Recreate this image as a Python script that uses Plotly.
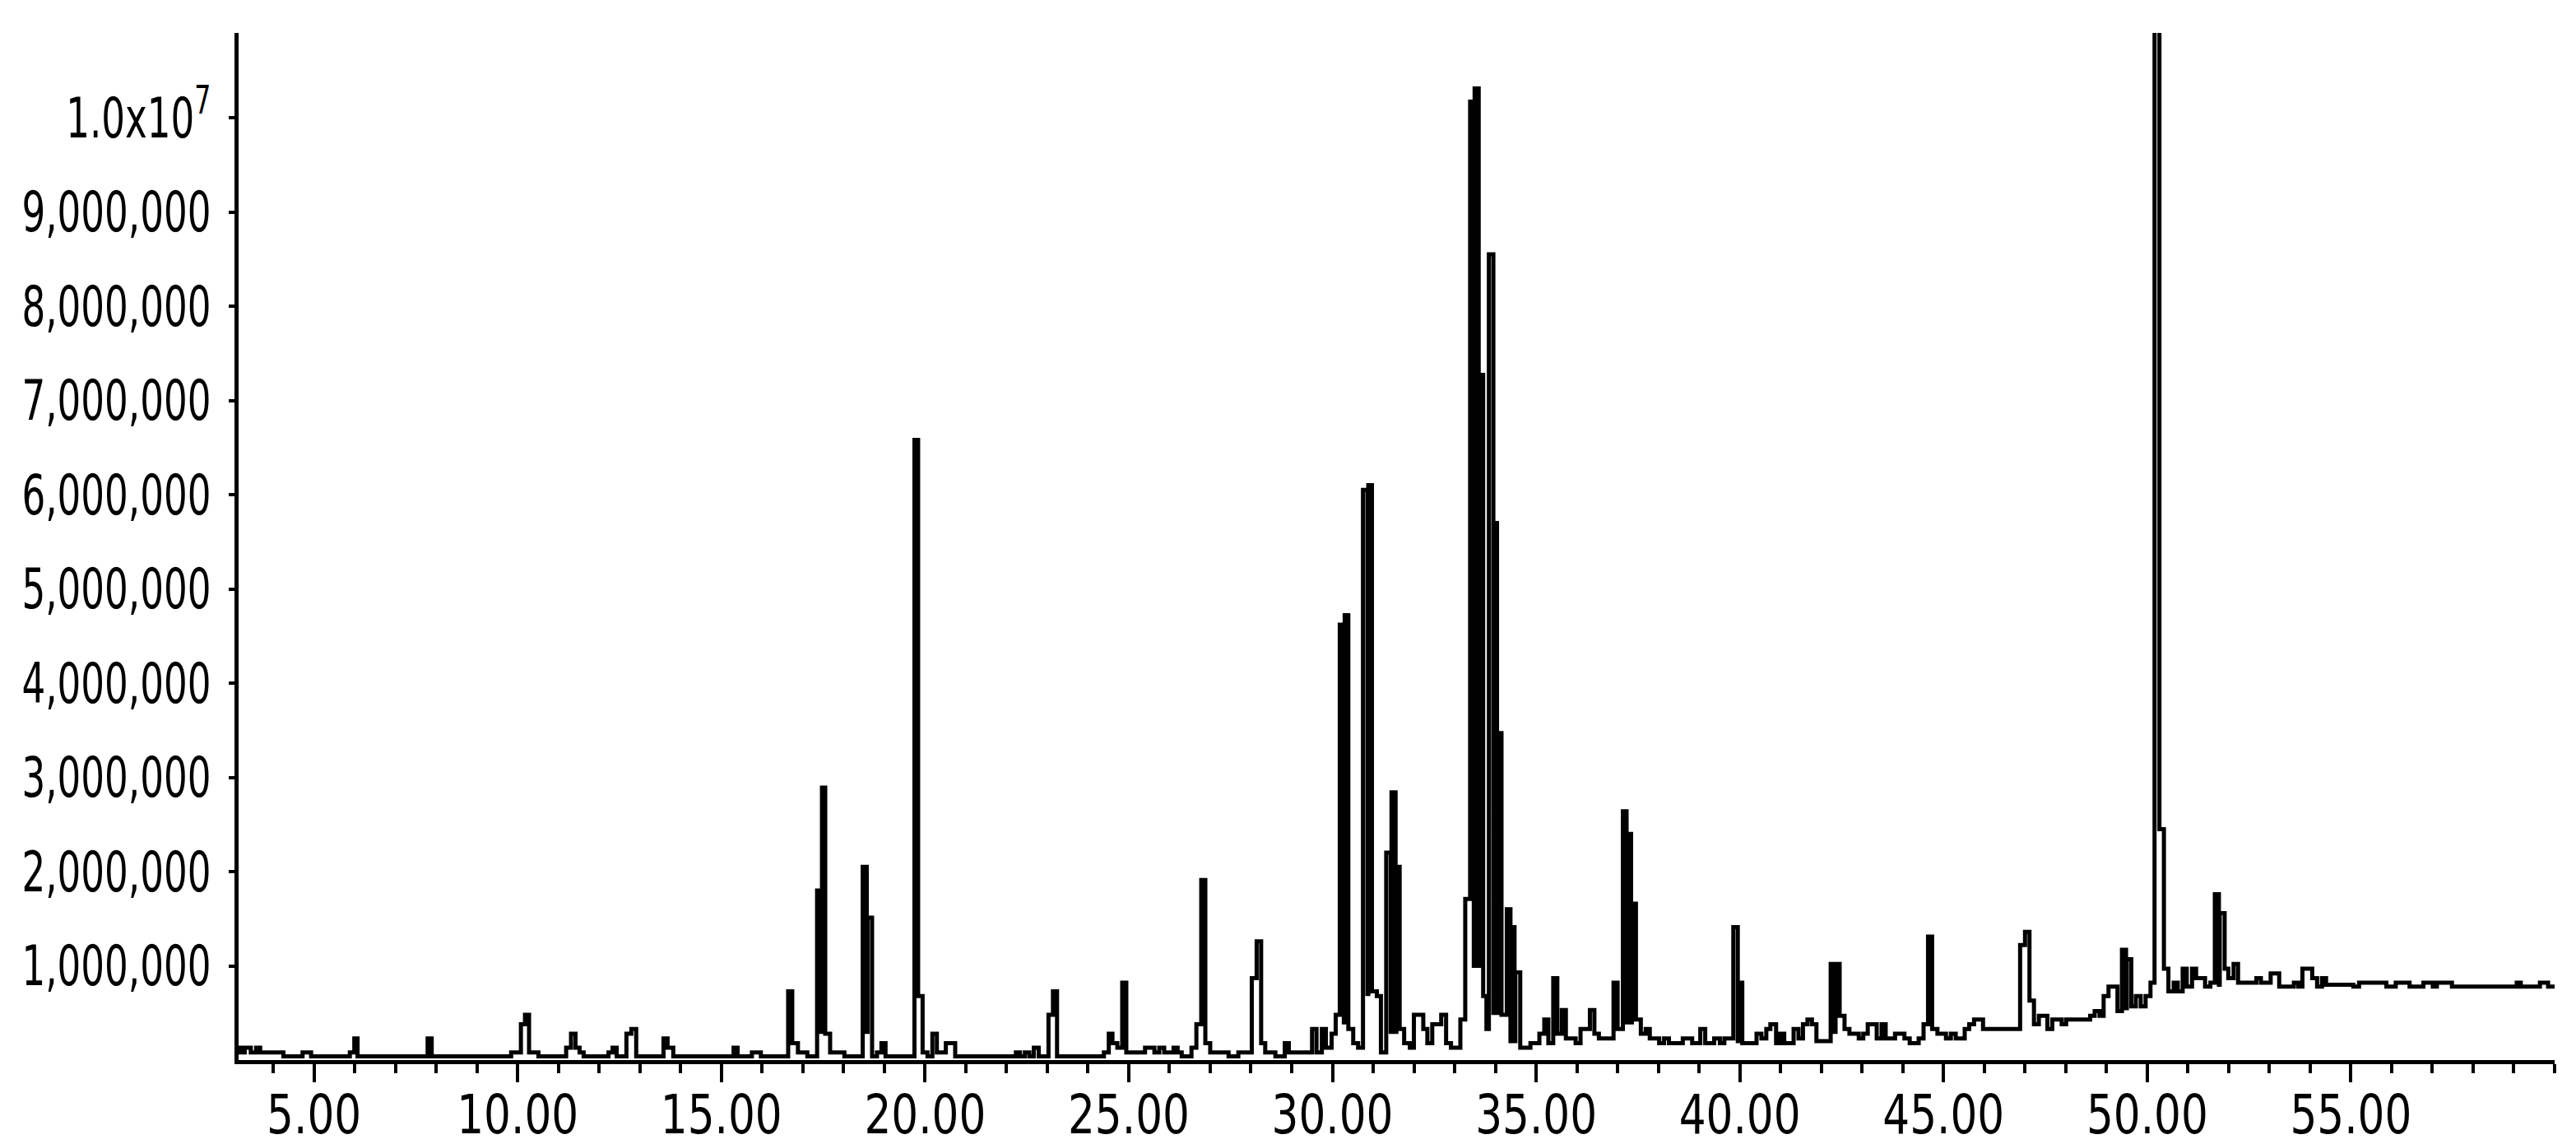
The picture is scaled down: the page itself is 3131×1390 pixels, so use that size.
import plotly.graph_objects as go

# Retention time (min) at which each step of the trace starts
times = [
    3.08, 3.20, 3.30, 3.45, 3.58, 3.68, 4.25, 4.72, 4.93, 5.88, 5.99, 6.07, 7.79, 7.89,
    9.84, 10.08, 10.18, 10.28, 10.51, 11.19, 11.31, 11.42, 11.52, 11.62, 12.23, 12.33,
    12.43, 12.67, 12.79, 12.91, 13.58, 13.68, 13.82, 15.30, 15.40, 15.75, 15.97, 16.64,
    16.74, 16.88, 17.11, 17.35, 17.45, 17.47, 17.55, 17.67, 18.02, 18.47, 18.57, 18.59,
    18.70, 18.82, 18.93, 19.03, 19.74, 19.83, 19.94, 20.06, 20.18, 20.29, 20.51, 20.74,
    22.23, 22.33, 22.45, 22.56, 22.67, 22.79, 23.03, 23.14, 23.24, 24.39, 24.51, 24.60,
    24.72, 24.84, 24.94, 25.40, 25.63, 25.75, 25.87, 26.10, 26.20, 26.30, 26.54, 26.66,
    26.78, 26.88, 27.00, 27.45, 27.69, 28.02, 28.14, 28.25, 28.35, 28.60, 28.83, 28.93,
    29.50, 29.61, 29.74, 29.84, 29.98, 30.08, 30.18, 30.28, 30.30, 30.39, 30.51, 30.63,
    30.75, 30.86, 30.88, 30.97, 31.09, 31.19, 31.32, 31.43, 31.45, 31.55, 31.57, 31.65,
    31.76, 31.90, 32.00, 32.23, 32.33, 32.45, 32.67, 32.79, 32.91, 33.14, 33.26, 33.38,
    33.47, 33.49, 33.59, 33.61, 33.70, 33.78, 33.84, 33.95, 33.97, 34.04, 34.06, 34.15,
    34.28, 34.37, 34.39, 34.47, 34.49, 34.61, 34.86, 35.08, 35.20, 35.30, 35.42, 35.52,
    35.63, 35.73, 35.97, 36.09, 36.32, 36.43, 36.54, 36.90, 37.00, 37.13, 37.22, 37.24,
    37.33, 37.35, 37.45, 37.57, 37.69, 37.79, 38.02, 38.14, 38.26, 38.60, 38.83, 39.03,
    39.15, 39.37, 39.51, 39.62, 39.84, 39.95, 39.97, 40.06, 40.41, 40.53, 40.65, 40.75,
    40.89, 40.99, 41.09, 41.32, 41.44, 41.55, 41.66, 41.77, 41.88, 42.23, 42.33, 42.35,
    42.45, 42.57, 42.69, 42.92, 43.03, 43.14, 43.36, 43.48, 43.58, 43.81, 44.04, 44.17,
    44.39, 44.51, 44.62, 44.72, 44.85, 45.06, 45.18, 45.30, 45.52, 45.63, 45.75, 45.97,
    46.88, 47.00, 47.11, 47.22, 47.34, 47.55, 47.67, 47.90, 48.01, 48.60, 48.71, 48.83,
    48.93, 49.05, 49.27, 49.38, 49.48, 49.50, 49.61, 49.72, 49.84, 49.96, 50.08, 50.18,
    50.30, 50.41, 50.52, 50.65, 50.75, 50.87, 50.97, 51.10, 51.20, 51.42, 51.55, 51.66,
    51.76, 51.78, 51.90, 51.99, 52.12, 52.23, 52.68, 52.79, 53.03, 53.24, 53.60, 53.71,
    53.81, 54.05, 54.17, 54.29, 54.39, 55.06, 55.20, 55.87, 56.10, 56.44, 56.78, 57.01,
    57.11, 57.48, 59.07, 59.17, 59.64, 59.84, 60.00,
]

# Abundance (millions of counts) held from each time above until the next one
abundance_m = [
    0.13, 0.08, 0.13, 0.08, 0.13, 0.08, 0.04, 0.08, 0.04, 0.08, 0.23, 0.04, 0.23, 0.04,
    0.08, 0.38, 0.48, 0.08, 0.04, 0.13, 0.28, 0.13, 0.08, 0.04, 0.08, 0.13,
    0.04, 0.28, 0.33, 0.04, 0.23, 0.13, 0.04, 0.13, 0.04, 0.08, 0.04, 0.73,
    0.18, 0.08, 0.04, 1.80, 0.30, 2.89, 0.28, 0.08, 0.04, 2.05, 0.30, 1.51,
    0.04, 0.08, 0.18, 0.04, 6.58, 0.68, 0.08, 0.04, 0.28, 0.08, 0.18, 0.04,
    0.08, 0.04, 0.08, 0.04, 0.13, 0.04, 0.48, 0.73, 0.04, 0.08, 0.28, 0.18,
    0.13, 0.82, 0.08, 0.13, 0.08, 0.13, 0.08, 0.13, 0.08, 0.04, 0.13, 0.38,
    1.91, 0.18, 0.08, 0.04, 0.08, 0.87, 1.26, 0.18, 0.08, 0.04, 0.18, 0.08,
    0.33, 0.08, 0.33, 0.13, 0.28, 0.48, 4.62, 0.40, 4.72, 0.33, 0.18, 0.13,
    6.05, 0.70, 6.10, 0.73, 0.68, 0.08, 2.20, 0.30, 2.84, 0.30, 2.05, 0.33,
    0.18, 0.13, 0.48, 0.33, 0.18, 0.38, 0.48, 0.18, 0.13, 0.43, 1.71, 10.17,
    1.00, 10.31, 1.00, 7.27, 0.68, 0.33, 8.55, 0.50, 5.70, 0.50, 3.47, 0.48,
    1.60, 0.20, 1.41, 0.20, 0.93, 0.13, 0.18, 0.28, 0.43, 0.18, 0.87, 0.28,
    0.53, 0.23, 0.18, 0.33, 0.53, 0.28, 0.23, 0.82, 0.33, 2.64, 0.40, 2.40,
    0.40, 1.66, 0.43, 0.28, 0.33, 0.23, 0.18, 0.23, 0.18, 0.23, 0.18, 0.33,
    0.18, 0.23, 0.18, 0.23, 1.41, 0.20, 0.82, 0.18, 0.28, 0.23, 0.33, 0.38,
    0.18, 0.28, 0.18, 0.33, 0.23, 0.38, 0.43, 0.38, 0.20, 1.02, 0.30, 1.02,
    0.47, 0.33, 0.28, 0.23, 0.28, 0.38, 0.23, 0.38, 0.23, 0.28, 0.23, 0.18,
    0.23, 0.38, 1.31, 0.33, 0.28, 0.23, 0.28, 0.23, 0.33, 0.38, 0.43, 0.33,
    1.22, 1.36, 0.63, 0.38, 0.47, 0.33, 0.43, 0.38, 0.43, 0.47, 0.52, 0.47,
    0.68, 0.78, 0.52, 1.17, 0.55, 1.07, 0.57, 0.68, 0.57, 0.68, 0.82, 11.50,
    2.45, 0.97, 0.73, 0.82, 0.73, 0.97, 0.78, 0.97, 0.87, 0.78, 0.82, 1.76,
    0.80, 1.56, 0.97, 0.87, 1.02, 0.82, 0.87, 0.82, 0.92, 0.78, 0.82, 0.78,
    0.97, 0.87, 0.78, 0.87, 0.80, 0.78, 0.82, 0.78, 0.82, 0.78, 0.82, 0.78,
    0.82, 0.78, 0.82, 0.78, 0.82, 0.78, 0.78,
]

abundance = [v * 1e6 for v in abundance_m]

x_tick_values = [5, 10, 15, 20, 25, 30, 35, 40, 45, 50, 55]
x_tick_labels = ["5.00", "10.00", "15.00", "20.00", "25.00", "30.00",
                 "35.00", "40.00", "45.00", "50.00", "55.00"]
y_tick_values = [1e6, 2e6, 3e6, 4e6, 5e6, 6e6, 7e6, 8e6, 9e6, 1e7]
y_tick_labels = ["1,000,000", "2,000,000", "3,000,000", "4,000,000", "5,000,000",
                 "6,000,000", "7,000,000", "8,000,000", "9,000,000", "1.0x10<sup>7</sup>"]

FONT = "DejaVu Sans Condensed, DejaVu Sans, sans-serif"

fig = go.Figure()
fig.add_trace(go.Scatter(
    x=times, y=abundance, mode="lines",
    line=dict(color="black", width=5, shape="hv"),
    showlegend=False, hoverinfo="skip",
))

fig.update_layout(
    width=3131, height=1390,
    margin=dict(l=282, r=34, t=32, b=110),
    paper_bgcolor="white", plot_bgcolor="white",
    font=dict(family=FONT, size=68, color="black"),
    xaxis=dict(
        range=[3.15, 60.0], automargin=False,
        tickmode="array", tickvals=x_tick_values, ticktext=x_tick_labels,
        ticks="outside", ticklen=22, tickwidth=4, tickcolor="black",
        minor=dict(ticks="outside", dtick=1, tick0=0, ticklen=11,
                   tickwidth=4, tickcolor="black"),
        showline=True, linewidth=5, linecolor="black",
        showgrid=False, zeroline=False,
        ticklabelstandoff=-17,
        tickfont=dict(family=FONT, size=66, color="black"),
    ),
    yaxis=dict(
        range=[0, 10.9e6], automargin=False,
        tickmode="array", tickvals=y_tick_values, ticktext=y_tick_labels,
        ticks="outside", ticklen=7, tickwidth=4, tickcolor="black",
        showline=True, linewidth=5, linecolor="black",
        showgrid=False, zeroline=False,
        ticklabelstandoff=8,
        tickfont=dict(family=FONT, size=68, color="black"),
    ),
)

# Narrow the tick-label glyphs horizontally (the original uses a tall, condensed
# bitmap font); text stays real SVG text.
squeeze_js = """
var gd = document.getElementById('{plot_id}');
function fitScale(sel, label, target, fallback) {
  var s = fallback;
  gd.querySelectorAll(sel).forEach(function (t) {
    if (t.textContent === label) {
      var w = t.getBBox().width;
      if (w > 0) { s = target / w; }
    }
  });
  return s;
}
function squeeze(sel, s) {
  gd.querySelectorAll(sel).forEach(function (t) {
    var x = parseFloat(t.getAttribute('x')) || 0;
    var y = parseFloat(t.getAttribute('y')) || 0;
    var tr = t.getAttribute('transform') || '';
    t.setAttribute('transform', tr + ' translate(' + x + ',' + y + ') scale(' + s +
      ',1) translate(' + (-x) + ',' + (-y) + ')');
  });
}
var sy = fitScale('.ytick text', '9,000,000', 230, 0.74);
var sx = fitScale('.xtick text', '5.00', 115, 0.8);
squeeze('.ytick text', sy);
squeeze('.xtick text', sx);
"""

fig.write_html("out.html", post_script=squeeze_js)
